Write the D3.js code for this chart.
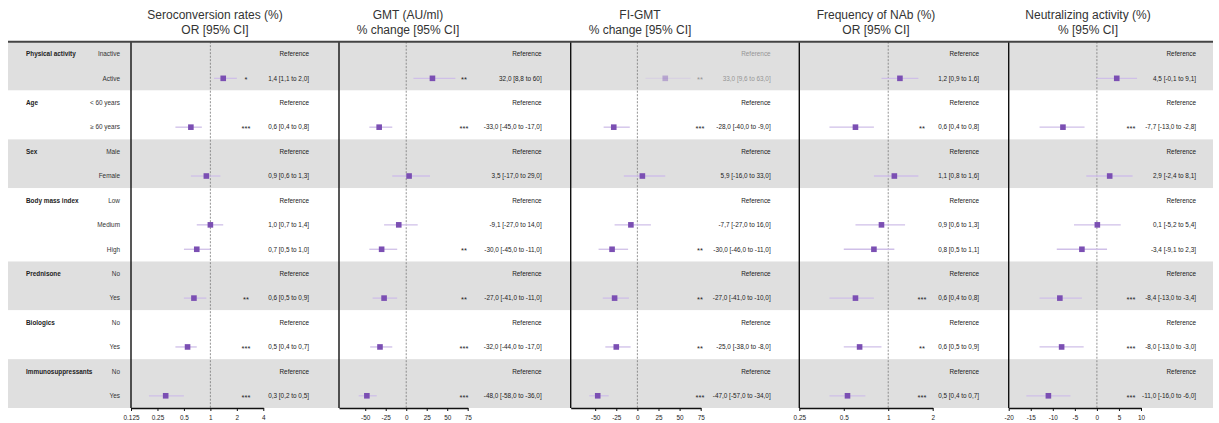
<!DOCTYPE html>
<html>
<head>
<meta charset="utf-8">
<script src="https://cdn.jsdelivr.net/npm/d3@7"></script>
<style>
  body { margin: 0; background: white; }
  text { font-family: "Liberation Sans", Arial, sans-serif; }
</style>
</head>
<body>
<script>
// row labels
const rowGroups = ["Physical activity", "Age", "Sex", "Body mass index", "Prednisone", "Biologics", "Immunosuppressants"];
const rowLevels = [
  ["Inactive", "Active"],
  ["< 60 years", "≥ 60 years"],
  ["Male", "Female"],
  ["Low", "Medium", "High"],
  ["No", "Yes"],
  ["No", "Yes"],
  ["No", "Yes"]
];

// null = reference row
// Seroconversion rates, OR
const seroEst = [null, 1.4, null, 0.6, null, 0.9, null, 1.0, 0.7, null, 0.65, null, 0.55, null, 0.31];
const seroLo  = [null, 1.1, null, 0.4, null, 0.6, null, 0.7, 0.5, null, 0.5, null, 0.4, null, 0.2];
const seroHi  = [null, 2.0, null, 0.8, null, 1.3, null, 1.4, 1.0, null, 0.9, null, 0.7, null, 0.5];
const seroTxt = [null, "1,4 [1,1 to 2,0]", null, "0,6 [0,4 to 0,8]", null, "0,9 [0,6 to 1,3]", null, "1,0 [0,7 to 1,4]", "0,7 [0,5 to 1,0]", null, "0,6 [0,5 to 0,9]", null, "0,5 [0,4 to 0,7]", null, "0,3 [0,2 to 0,5]"];
const seroSig = ["", "*", "", "***", "", "", "", "", "", "", "**", "", "***", "", "***"];

// GMT, % change
const gmtEst = [null, 32.0, null, -33.0, null, 3.5, null, -9.1, -30.0, null, -27.0, null, -32.0, null, -48.0];
const gmtLo  = [null, 8.8, null, -45.0, null, -17.0, null, -27.0, -45.0, null, -41.0, null, -44.0, null, -58.0];
const gmtHi  = [null, 60, null, -17.0, null, 29.0, null, 14.0, -11.0, null, -11.0, null, -17.0, null, -36.0];
const gmtTxt = [null, "32,0 [8,8 to 60]", null, "-33,0 [-45,0 to -17,0]", null, "3,5 [-17,0 to 29,0]", null, "-9,1 [-27,0 to 14,0]", "-30,0 [-45,0 to -11,0]", null, "-27,0 [-41,0 to -11,0]", null, "-32,0 [-44,0 to -17,0]", null, "-48,0 [-58,0 to -36,0]"];
const gmtSig = ["", "**", "", "***", "", "", "", "", "**", "", "**", "", "***", "", "***"];

// FI-GMT, % change
const fiEst = [null, 33.0, null, -28.0, null, 5.9, null, -7.7, -30.0, null, -27.0, null, -25.0, null, -47.0];
const fiLo  = [null, 9.6, null, -40.0, null, -16.0, null, -27.0, -46.0, null, -41.0, null, -38.0, null, -57.0];
const fiHi  = [null, 63.0, null, -9.0, null, 33.0, null, 16.0, -11.0, null, -10.0, null, -8.0, null, -34.0];
const fiTxt = [null, "33,0 [9,6 to 63,0]", null, "-28,0 [-40,0 to -9,0]", null, "5,9 [-16,0 to 33,0]", null, "-7,7 [-27,0 to 16,0]", "-30,0 [-46,0 to -11,0]", null, "-27,0 [-41,0 to -10,0]", null, "-25,0 [-38,0 to -8,0]", null, "-47,0 [-57,0 to -34,0]"];
const fiSig = ["", "**", "", "***", "", "", "", "", "**", "", "**", "", "**", "", "***"];

// Frequency of NAb, OR
const nabEst = [null, 1.2, null, 0.6, null, 1.1, null, 0.9, 0.8, null, 0.6, null, 0.64, null, 0.53];
const nabLo  = [null, 0.9, null, 0.4, null, 0.8, null, 0.6, 0.5, null, 0.4, null, 0.5, null, 0.4];
const nabHi  = [null, 1.6, null, 0.8, null, 1.6, null, 1.3, 1.1, null, 0.8, null, 0.9, null, 0.7];
const nabTxt = [null, "1,2 [0,9 to 1,6]", null, "0,6 [0,4 to 0,8]", null, "1,1 [0,8 to 1,6]", null, "0,9 [0,6 to 1,3]", "0,8 [0,5 to 1,1]", null, "0,6 [0,4 to 0,8]", null, "0,6 [0,5 to 0,9]", null, "0,5 [0,4 to 0,7]"];
const nabSig = ["", "", "", "**", "", "", "", "", "", "", "***", "", "**", "", "***"];

// Neutralizing activity, %
const neuEst = [null, 4.5, null, -7.7, null, 2.9, null, 0.1, -3.4, null, -8.4, null, -8.0, null, -11.0];
const neuLo  = [null, -0.1, null, -13.0, null, -2.4, null, -5.2, -9.1, null, -13.0, null, -13.0, null, -16.0];
const neuHi  = [null, 9.1, null, -2.8, null, 8.1, null, 5.4, 2.3, null, -3.4, null, -3.0, null, -6.0];
const neuTxt = [null, "4,5 [-0,1 to 9,1]", null, "-7,7 [-13,0 to -2,8]", null, "2,9 [-2,4 to 8,1]", null, "0,1 [-5,2 to 5,4]", "-3,4 [-9,1 to 2,3]", null, "-8,4 [-13,0 to -3,4]", null, "-8,0 [-13,0 to -3,0]", null, "-11,0 [-16,0 to -6,0]"];
const neuSig = ["", "", "", "***", "", "", "", "", "", "", "***", "", "***", "", "***"];

const titles = [
  ["Seroconversion rates (%)", "OR [95% CI]"],
  ["GMT (AU/ml)", "% change [95% CI]"],
  ["FI-GMT", "% change [95% CI]"],
  ["Frequency of NAb (%)", "OR [95% CI]"],
  ["Neutralizing activity (%)", "% [95% CI]"]
];
const ticksOR1 = [0.125, 0.25, 0.5, 1, 2, 4];
const ticksPct = [-50, -25, 0, 25, 50, 75];
const ticksOR2 = [0.25, 0.5, 1, 2];
const ticksNeu = [-20, -15, -10, -5, 0, 5, 10];

// layout
const W = 1219, H = 423;
const TOP = 41.7, BOTTOM = 408;
const BAND_L = 8, BAND_R = 1213;
const FS = "6.4px";
const PURPLE = "#7b4fb3", CI_COL = "#cfbfe8", GREY_BAND = "#dfdfdf";

const panels = [
  { log: true,  domain: [0.125, 4], range: [131, 263.3], ref: 1, ticks: ticksOR1, est: seroEst, lo: seroLo, hi: seroHi, txt: seroTxt, sig: seroSig, textRight: 309, starX: 246, titleX: 215 },
  { log: false, domain: [-82, 75], range: [339, 467.7], ref: 0, ticks: ticksPct, est: gmtEst, lo: gmtLo, hi: gmtHi, txt: gmtTxt, sig: gmtSig, textRight: 541.7, starX: 464, titleX: 408 },
  { log: false, domain: [-79, 75], range: [570.7, 700.7], ref: 0, ticks: ticksPct, est: fiEst, lo: fiLo, hi: fiHi, txt: fiTxt, sig: fiSig, textRight: 770.7, starX: 700, titleX: 640, faded: [0, 1] },
  { log: true,  domain: [0.25, 2], range: [799.3, 932.7], ref: 1, ticks: ticksOR2, est: nabEst, lo: nabLo, hi: nabHi, txt: nabTxt, sig: nabSig, textRight: 979, starX: 922, titleX: 876 },
  { log: false, domain: [-20, 10], range: [1008.7, 1141], ref: 0, ticks: ticksNeu, est: neuEst, lo: neuLo, hi: neuHi, txt: neuTxt, sig: neuSig, textRight: 1196, starX: 1131, titleX: 1088 }
];

const svg = d3.select("body").append("svg")
  .attr("width", W)
  .attr("height", H);

// flatten rows
const rows = [];
rowGroups.forEach((g, gi) => rowLevels[gi].forEach((l, li) => rows.push({ group: g, gi: gi, level: l, first: li === 0 })));

const y = d3.scaleBand()
  .domain(d3.range(rows.length))
  .range([TOP, BOTTOM]);
const yc = i => y(i) + y.bandwidth() / 2;

// group bands
rowGroups.forEach((g, gi) => {
  const idx = rows.map((r, i) => r.gi === gi ? i : -1).filter(i => i >= 0);
  svg.append("rect")
    .attr("x", BAND_L)
    .attr("y", y(idx[0]))
    .attr("width", BAND_R - BAND_L)
    .attr("height", y(idx[idx.length - 1]) + y.bandwidth() - y(idx[0]))
    .attr("fill", gi % 2 === 0 ? GREY_BAND : "white");
});

// row labels
svg.selectAll(".grp")
  .data(rows.map((r, i) => ({ ...r, i })).filter(r => r.first))
  .join("text")
  .attr("x", 26)
  .attr("y", d => yc(d.i))
  .attr("dy", "0.35em")
  .style("font-size", FS)
  .style("font-weight", "bold")
  .attr("fill", "#222")
  .text(d => d.group);

svg.selectAll(".lvl")
  .data(rows.map((r, i) => ({ ...r, i })))
  .join("text")
  .attr("x", 120)
  .attr("y", d => yc(d.i))
  .attr("dy", "0.35em")
  .attr("text-anchor", "end")
  .style("font-size", FS)
  .attr("fill", "#333")
  .text(d => d.level);

panels.forEach((p, pi) => {
  const x = (p.log ? d3.scaleLog().base(2) : d3.scaleLinear())
    .domain(p.domain)
    .range(p.range);
  const g = svg.append("g");
  const fade = i => (p.faded && p.faded.includes(i)) ? 0.4 : 1;

  // reference line
  g.append("line")
    .attr("x1", x(p.ref)).attr("x2", x(p.ref))
    .attr("y1", TOP).attr("y2", BOTTOM)
    .attr("stroke", "#777")
    .attr("stroke-width", 0.8)
    .attr("stroke-dasharray", "2,1.5");

  // left border of panel
  g.append("line")
    .attr("x1", p.range[0]).attr("x2", p.range[0])
    .attr("y1", TOP).attr("y2", BOTTOM)
    .attr("stroke", "#111")
    .attr("stroke-width", 1.4);

  // axis
  const ax = g.append("g")
    .attr("transform", `translate(0, ${BOTTOM})`)
    .call(d3.axisBottom(x).tickValues(p.ticks).tickFormat(d => "" + d).tickSize(3).tickSizeOuter(0));
  ax.select(".domain").attr("stroke", "#111").attr("stroke-width", 1.3);
  ax.selectAll(".tick line").attr("stroke", "#111");
  ax.selectAll(".tick text").style("font-size", FS).attr("fill", "#222").attr("dy", "0.9em");

  const idx = d3.range(rows.length);

  // CI lines
  g.selectAll(".ci")
    .data(idx.filter(i => p.est[i] !== null))
    .join("line")
    .attr("x1", i => x(p.lo[i]))
    .attr("x2", i => x(p.hi[i]))
    .attr("y1", i => yc(i))
    .attr("y2", i => yc(i))
    .attr("stroke", CI_COL)
    .attr("stroke-width", 1.3)
    .attr("opacity", fade);

  // points
  g.selectAll(".pt")
    .data(idx.filter(i => p.est[i] !== null))
    .join("rect")
    .attr("x", i => x(p.est[i]) - 2.8)
    .attr("y", i => yc(i) - 2.8)
    .attr("width", 5.6)
    .attr("height", 5.6)
    .attr("fill", PURPLE)
    .attr("opacity", fade);

  // estimate text
  g.selectAll(".lab")
    .data(idx)
    .join("text")
    .attr("x", p.textRight)
    .attr("y", i => yc(i))
    .attr("dy", "0.35em")
    .attr("text-anchor", "end")
    .style("font-size", FS)
    .attr("fill", "#222")
    .attr("opacity", fade)
    .text(i => p.est[i] === null ? "Reference" : p.txt[i]);

  // significance stars
  g.selectAll(".sig")
    .data(idx.filter(i => p.sig[i]))
    .join("text")
    .attr("x", p.starX)
    .attr("y", i => yc(i))
    .attr("dy", "0.5em")
    .attr("text-anchor", "middle")
    .style("font-size", "7.5px")
    .attr("fill", "#222")
    .attr("opacity", fade)
    .text(i => p.sig[i]);

  // title
  g.selectAll(".title")
    .data(titles[pi])
    .join("text")
    .attr("x", p.titleX)
    .attr("y", (d, k) => 19 + k * 15)
    .attr("text-anchor", "middle")
    .style("font-size", "12px")
    .attr("fill", "#333")
    .text(d => d);
});

// top rule
svg.append("line")
  .attr("x1", BAND_L).attr("x2", BAND_R)
  .attr("y1", TOP).attr("y2", TOP)
  .attr("stroke", "#444")
  .attr("stroke-width", 2);
</script>
</body>
</html>
